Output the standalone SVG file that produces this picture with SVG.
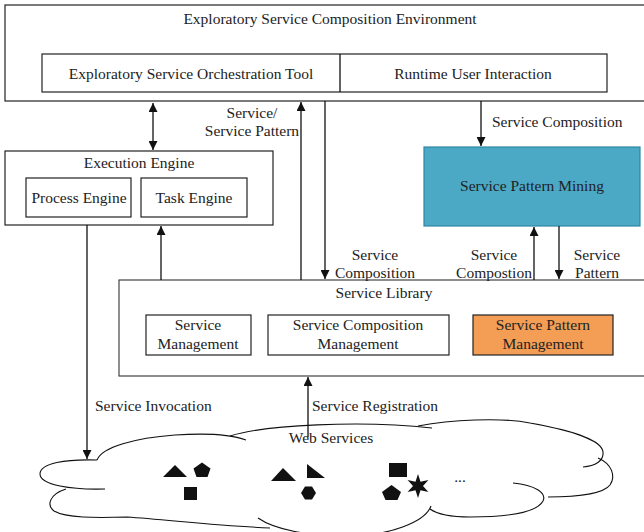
<svg xmlns="http://www.w3.org/2000/svg" width="644" height="532" viewBox="0 0 644 532">
<defs>
<style>
text{font-family:"Liberation Serif","Times New Roman",serif;font-size:15.5px;fill:#222;text-anchor:middle}
.l{text-anchor:start}
.box{fill:#fff;stroke:#222;stroke-width:1.2}
.gbox{fill:#fff;stroke:#444;stroke-width:1.2}
.c{stroke:#111;stroke-width:1.3;fill:none}
.cl{fill:none;stroke:#111;stroke-width:1.1}
.sh{fill:#111}
</style>
<marker id="ah" viewBox="0 0 10 10" refX="10" refY="5" markerWidth="11" markerHeight="9" markerUnits="userSpaceOnUse" orient="auto-start-reverse">
<path d="M0,0 L10,5 L0,10 z" fill="#111"/>
</marker>
</defs>

<g id="env">
<rect class="box" x="5" y="5" width="660" height="96"/>
<text x="330" y="24">Exploratory Service Composition Environment</text>
<rect class="box" x="42" y="54" width="565" height="38"/>
<line class="c" x1="340" y1="54" x2="340" y2="92" stroke-width="1.2"/>
<text x="191" y="79">Exploratory Service Orchestration Tool</text>
<text x="473" y="79">Runtime User Interaction</text>
</g>

<g id="exec">
<rect class="box" x="5" y="151" width="268" height="74"/>
<text x="139" y="168">Execution Engine</text>
<rect class="box" x="26" y="178" width="105" height="39"/>
<text x="79" y="203">Process Engine</text>
<rect class="box" x="141" y="178" width="106" height="39"/>
<text x="194" y="203">Task Engine</text>
</g>

<g id="mining">
<rect x="424" y="147" width="216" height="79" fill="#4BA9C6" stroke="#2F86A3" stroke-width="1.2"/>
<text x="532" y="191">Service Pattern Mining</text>
</g>

<g id="library">
<rect class="gbox" x="119" y="280" width="540" height="96"/>
<text x="384" y="298">Service Library</text>
<rect class="box" x="146" y="315" width="105" height="40"/>
<text x="198" y="330">Service</text>
<text x="198" y="349">Management</text>
<rect class="box" x="268" y="315" width="181" height="40"/>
<text x="358" y="330">Service Composition</text>
<text x="358" y="349">Management</text>
<rect x="473" y="315" width="140" height="40" fill="#F39D55" stroke="#222" stroke-width="1.2"/>
<text x="543" y="330">Service Pattern</text>
<text x="543" y="349">Management</text>
</g>

<g id="cloud">
<path class="cl" d="M105,489 C72,490 40,485 40,474 C40,463 66,459 97,460"/>
<path class="cl" d="M97,460 C102,447 135,438 175,435 C205,433 232,435 246,440"/>
<path class="cl" d="M230,436 C265,425 360,420 432,428"/>
<path class="cl" d="M418,426 C450,420 500,417 530,423 C570,430 602,440 603,452 C604,461 595,466 583,467"/>
<path class="cl" d="M598,458 C612,464 616,476 610,485 C604,493 580,497 548,497"/>
<path class="cl" d="M513,483 C535,485 547,493 543,501 C537,512 510,517 470,517 C452,517 437,514 430,509"/>
<path class="cl" d="M258,518 C275,530 310,536 345,536 C390,536 425,522 431,506"/>
<path class="cl" d="M66,489 C50,494 46,505 54,511 C66,518 95,518 127,517 C170,520 220,526 270,528"/>
<text x="331" y="443">Web Services</text>
<polygon class="sh" points="163,477 175,465 187,477"/>
<polygon class="sh" points="202,462.5 210.5,468.5 207.5,477 196.5,477 193.5,468.5"/>
<rect class="sh" x="184" y="487" width="13" height="13"/>
<polygon class="sh" points="271,481 283,468 296,481"/>
<polygon class="sh" points="307,464 325,478 307,478"/>
<polygon class="sh" points="301,493 305,486.5 312,486.5 316,493 312,499.5 305,499.5"/>
<rect class="sh" x="389" y="463" width="18" height="14"/>
<polygon class="sh" points="391.5,485 401,492 397.5,500 385.5,500 382,492"/>
<polygon class="sh" points="418,474 420.5,481.7 428.4,480 423,486 428.4,492 420.5,490.3 418,498 415.5,490.3 407.6,492 413,486 407.6,480 415.5,481.7"/>
<text x="460" y="482">...</text>
</g>

<g id="connectors">
<line class="c" x1="153" y1="103" x2="153" y2="150" marker-start="url(#ah)" marker-end="url(#ah)"/>
<line class="c" x1="301" y1="280" x2="301" y2="102" marker-end="url(#ah)"/>
<line class="c" x1="325" y1="101" x2="325" y2="279" marker-end="url(#ah)"/>
<line class="c" x1="481" y1="101" x2="481" y2="146" marker-end="url(#ah)"/>
<line class="c" x1="534" y1="280" x2="534" y2="227" marker-end="url(#ah)"/>
<line class="c" x1="559" y1="226" x2="559" y2="279" marker-end="url(#ah)"/>
<line class="c" x1="161" y1="280" x2="161" y2="226" marker-end="url(#ah)"/>
<line class="c" x1="87" y1="225" x2="87" y2="459" marker-end="url(#ah)"/>
<line class="c" x1="308" y1="437" x2="308" y2="377" marker-end="url(#ah)"/>
<text x="252" y="118">Service/</text>
<text x="252" y="136">Service Pattern</text>
<text class="l" x="492" y="127">Service Composition</text>
<text x="375" y="260">Service</text>
<text x="375" y="278">Composition</text>
<text x="494" y="260">Service</text>
<text x="494" y="278">Compostion</text>
<text x="597" y="260">Service</text>
<text x="597" y="278">Pattern</text>
<text class="l" x="95" y="411">Service Invocation</text>
<text class="l" x="312" y="411">Service Registration</text>
</g>
</svg>
